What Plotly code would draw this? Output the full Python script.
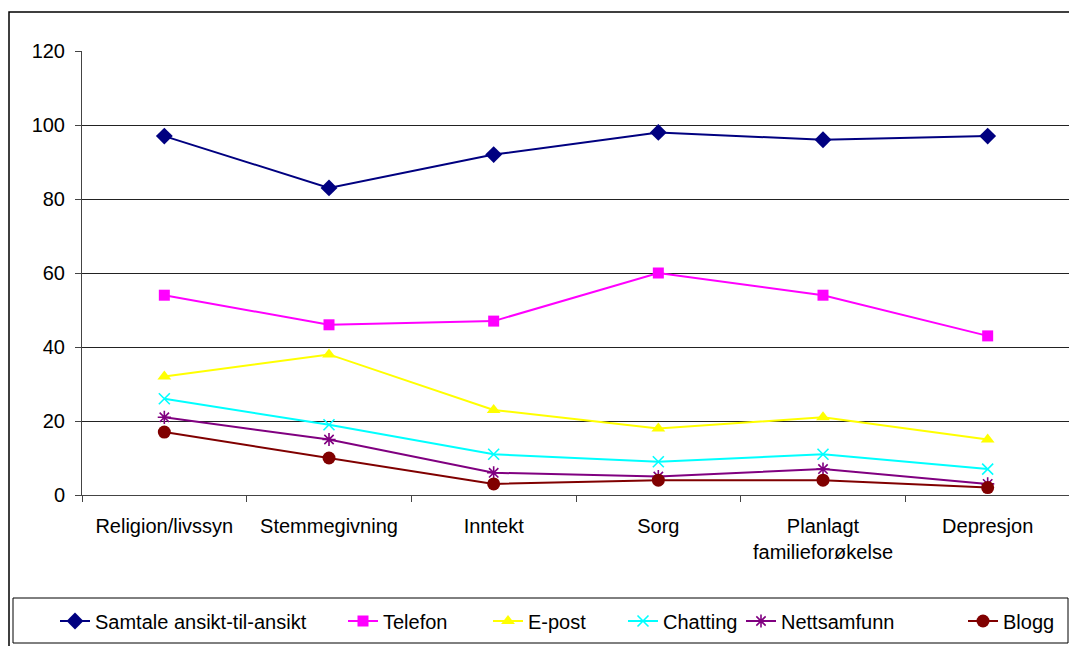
import plotly.graph_objects as go

categories = ["Religion/livssyn", "Stemmegivning", "Inntekt", "Sorg", "Planlagt<br>familieforøkelse", "Depresjon"]
samtale = [97, 83, 92, 98, 96, 97]
telefon = [54, 46, 47, 60, 54, 43]
epost = [32, 38, 23, 18, 21, 15]
chatting = [26, 19, 11, 9, 11, 7]
nettsamfunn = [21, 15, 6, 5, 7, 3]
blogg = [17, 10, 3, 4, 4, 2]

series = [
    ("Samtale ansikt-til-ansikt", samtale, "#000080", "diamond", 13),
    ("Telefon", telefon, "#FF00FF", "square", 11),
    ("E-post", epost, "#FFFF00", "triangle-up", 12),
    ("Chatting", chatting, "#00FFFF", "x-thin-open", 11),
    ("Nettsamfunn", nettsamfunn, "#800080", "asterisk-open", 11),
    ("Blogg", blogg, "#800000", "circle", 13),
]

# page offset of the plot div (browser body margin)
OFF = 8
# legend text start positions (page px)
legend_text_px = [95, 383, 528, 663, 781, 1003]
# plot area in figure px
L, R, T, B = 82 - OFF, 1070 - OFF, 51 - OFF, 495 - OFF
W, H = 1077, 646
FONT = "Liberation Sans, Arial"

fig = go.Figure()
for i, (name, vals, color, sym, size) in enumerate(series):
    lg = "legend" if i == 0 else f"legend{i+1}"
    open_sym = sym.endswith("open")
    fig.add_trace(go.Scatter(
        x=categories, y=vals, name=name, mode="lines+markers",
        line=dict(color=color, width=2),
        marker=dict(symbol=sym, size=size, color=color,
                    line=dict(color=color, width=1.6 if open_sym else 0)),
        legend=lg,
    ))

pw = R - L
ph = B - T
def px2x(p):
    return (p - OFF - L) / pw
def py2y(p):
    return (B - (p - OFF)) / ph

layout_legends = {}
for i, tx in enumerate(legend_text_px):
    key = "legend" if i == 0 else f"legend{i+1}"
    layout_legends[key] = dict(
        x=px2x(tx - 40), xanchor="left", y=py2y(621), yanchor="middle",
        orientation="h", bgcolor="rgba(0,0,0,0)", borderwidth=0,
        font=dict(family=FONT, size=20, color="#000"),
        itemwidth=30,
    )

fig.update_layout(
    width=W, height=H,
    margin=dict(l=L, r=W - R, t=T, b=H - B),
    paper_bgcolor="white", plot_bgcolor="white",
    font=dict(family=FONT, size=20, color="#000"),
    showlegend=True,
    xaxis=dict(
        type="category", showgrid=False, showline=True, linecolor="#444", linewidth=1,
        ticks="outside", tickson="boundaries", ticklen=6, tickcolor="#444",
        tickfont=dict(size=20), range=[-0.5, 5.5], ticklabelstandoff=13,
    ),
    yaxis=dict(
        range=[0, 120], dtick=20, showgrid=True, gridcolor="#222", gridwidth=1,
        showline=True, linecolor="#444", linewidth=1, ticks="outside", ticklen=6,
        tickcolor="#444", tickfont=dict(size=20), zeroline=False, ticklabelstandoff=6,
    ),
    shapes=[
        dict(type="rect", xref="paper", yref="paper",
             x0=px2x(OFF + 1), x1=px2x(1100), y0=py2y(720), y1=py2y(12),
             line=dict(color="#000", width=1.5), fillcolor="rgba(0,0,0,0)", layer="below"),
        dict(type="rect", xref="paper", yref="paper",
             x0=px2x(13), x1=px2x(1068), y0=py2y(643), y1=py2y(598),
             line=dict(color="#000", width=1), fillcolor="rgba(0,0,0,0)", layer="below"),
    ],
    **layout_legends,
)

fig.write_html("out.html")
